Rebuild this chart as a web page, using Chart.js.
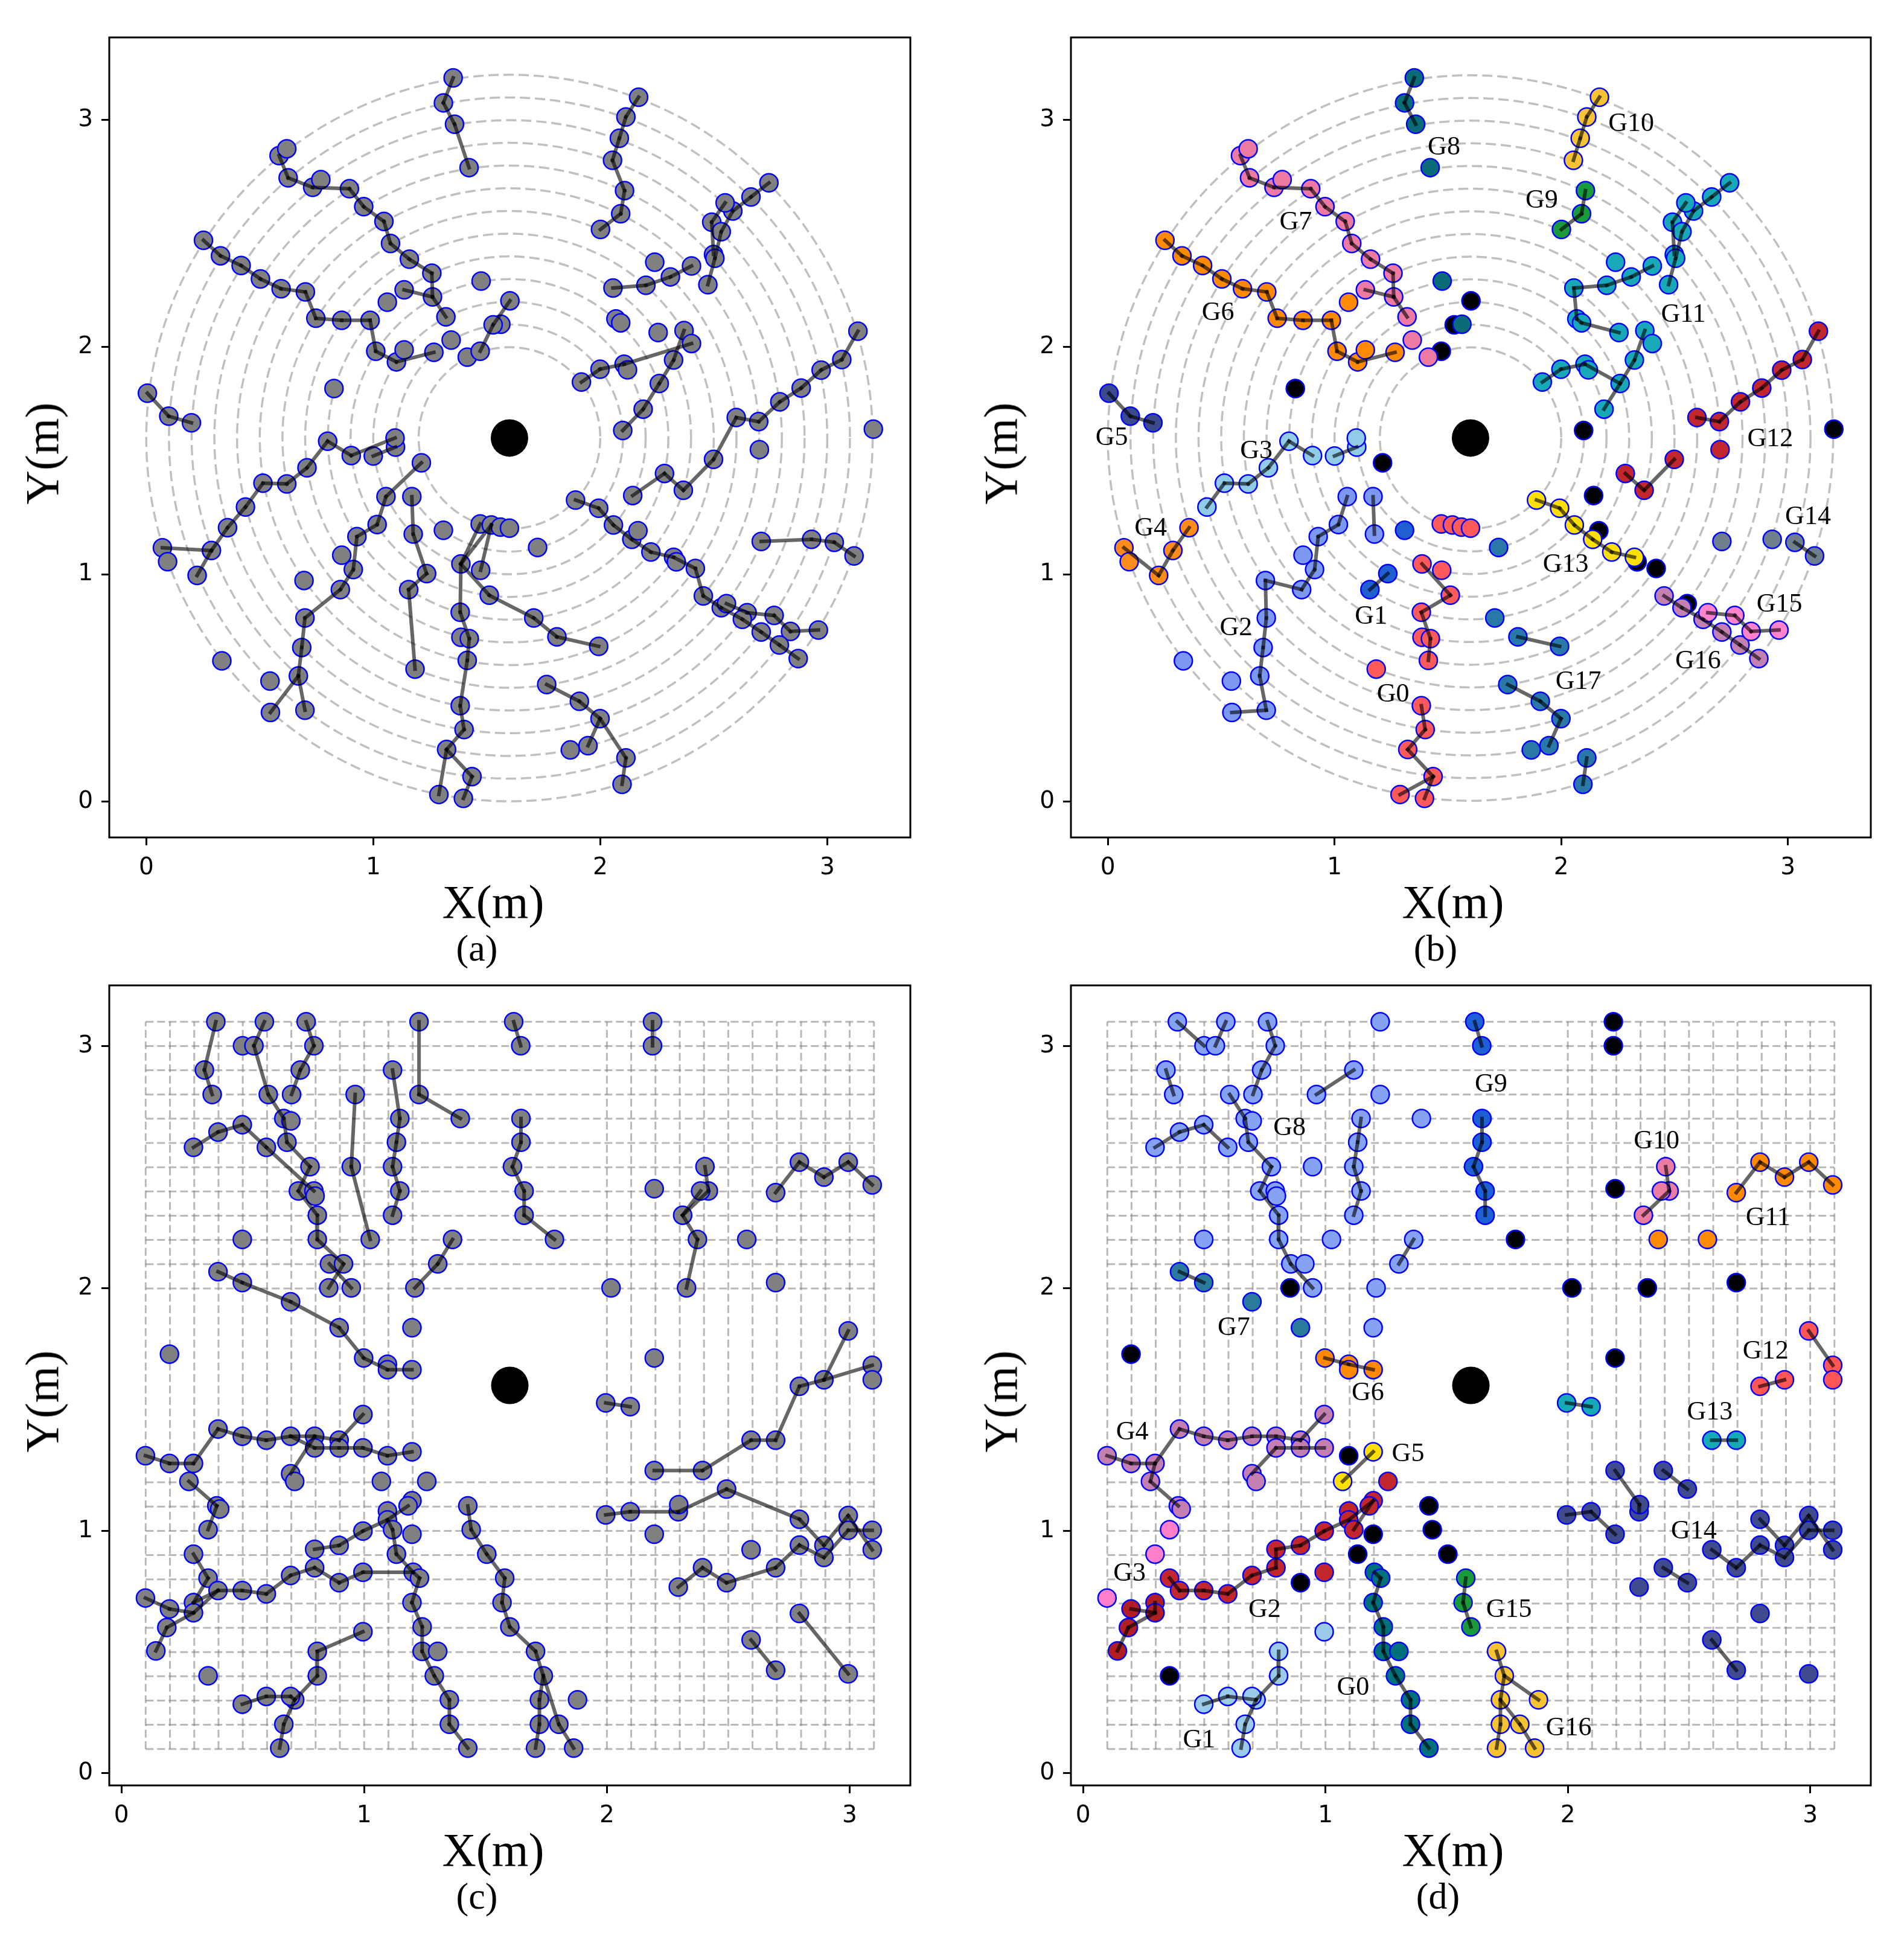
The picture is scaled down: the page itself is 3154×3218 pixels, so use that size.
<!DOCTYPE html>
<html><head><meta charset="utf-8">
<script src="https://cdn.jsdelivr.net/npm/chart.js@4.4.1/dist/chart.umd.min.js"></script>
<style>
html,body{margin:0;padding:0;background:#fff;}
body{position:relative;width:3154px;height:3218px;overflow:hidden;}
canvas{position:absolute;}
.t{position:absolute;font-family:'Liberation Serif','Times New Roman',serif;color:#000;white-space:nowrap;line-height:1;transform:translate(-50%,-50%);}
.ax{font-size:78px;}
.cap{font-size:62px;}
.yl{transform:translate(-50%,-50%) rotate(-90deg);}
</style></head><body>
<canvas id="pa" width="1507" height="1435" style="left:21px;top:42px"></canvas>
<canvas id="pb" width="1505" height="1435" style="left:1614px;top:42px"></canvas>
<canvas id="pc" width="1507" height="1435" style="left:21px;top:1612px"></canvas>
<canvas id="pd" width="1505" height="1435" style="left:1614px;top:1612px"></canvas>
<div class="t ax" style="left:817px;top:1494px">X(m)</div>
<div class="t cap" style="left:790px;top:1570px">(a)</div>
<div class="t ax yl" style="left:70px;top:751px">Y(m)</div>
<div class="t ax" style="left:2407px;top:1494px">X(m)</div>
<div class="t cap" style="left:2378px;top:1570px">(b)</div>
<div class="t ax yl" style="left:1658px;top:751px">Y(m)</div>
<div class="t ax" style="left:817px;top:3064px">X(m)</div>
<div class="t cap" style="left:790px;top:3140px">(c)</div>
<div class="t ax yl" style="left:70px;top:2321px">Y(m)</div>
<div class="t ax" style="left:2407px;top:3064px">X(m)</div>
<div class="t cap" style="left:2382px;top:3140px">(d)</div>
<div class="t ax yl" style="left:1658px;top:2321px">Y(m)</div>
<script>
// ---------- shared constants ----------
const tickValues = [0, 1, 2, 3];
const robotPos = [[1.6, 1.6]];
const ringRadii = [0.4, 0.5, 0.6, 0.7, 0.8, 0.9, 1.0, 1.1, 1.2, 1.3, 1.4, 1.5, 1.6];
const gridLinesX = [0.1,0.2,0.3,0.4,0.5,0.6,0.7,0.8,0.9,1.0,1.1,1.2,2.0,2.1,2.2,2.3,2.4,2.5,2.6,2.7,2.8,2.9,3.0,3.1];
const gridLinesY = [0.1,0.2,0.3,0.4,0.5,0.6,0.7,0.8,0.9,1.0,1.1,1.2,2.0,2.1,2.2,2.3,2.4,2.5,2.6,2.7,2.8,2.9,3.0,3.1];
const gridSpan = [0.1, 3.1];

// ---------- circular layout (a)/(b): groups ----------
const circG0 = [[1.386,1.046],[1.383,0.833],[1.386,0.723],[1.423,0.717],[1.414,0.621],[1.383,0.422],[1.400,0.317],[1.323,0.229],[1.435,0.110],[1.397,0.014],[1.289,0.031],[1.511,0.908],[1.473,1.018],[1.471,1.222],[1.520,1.217],[1.560,1.208],[1.600,1.203],[1.184,0.583]];
const circG1 = [[1.235,1.003],[1.156,0.933],[1.309,1.194]];
const circG2 = [[1.056,1.342],[1.017,1.219],[0.928,1.166],[0.912,1.021],[0.855,0.933],[0.699,0.808],[0.685,0.678],[0.670,0.553],[0.547,0.392],[0.699,0.402],[0.861,1.084],[0.695,0.973],[0.333,0.619],[0.545,0.530],[1.170,1.342],[1.176,1.177]];
const circG3 = [[0.437,1.296],[0.514,1.401],[0.619,1.398],[0.708,1.469],[0.799,1.586],[0.903,1.523],[1.000,1.521],[1.098,1.560],[1.096,1.600]];
const circG4 = [[0.358,1.205],[0.287,1.105],[0.224,0.995],[0.071,1.117],[0.094,1.056]];
const circG5 = [[0.005,1.797],[0.099,1.696],[0.199,1.667]];
const circG6 = [[0.252,2.470],[0.327,2.402],[0.418,2.359],[0.503,2.300],[0.594,2.257],[0.701,2.243],[0.747,2.127],[0.861,2.118],[0.986,2.118],[1.011,1.982],[1.102,1.935],[1.267,1.977],[1.136,1.988],[1.062,2.198]];
const circG7 = [[0.585,2.843],[0.619,2.873],[0.625,2.745],[0.733,2.703],[0.769,2.737],[0.895,2.697],[0.958,2.618],[1.047,2.553],[1.076,2.456],[1.159,2.387],[1.258,2.325],[1.261,2.221],[1.320,2.133],[1.136,2.252],[1.343,2.031],[1.414,1.956]];
const circG8 = [[1.352,3.185],[1.309,3.075],[1.358,2.981],[1.422,2.790],[1.475,2.291],[1.562,2.101]];
const circG9 = [[2.107,2.689],[2.090,2.587],[2.001,2.518]];
const circG10 = [[2.169,3.100],[2.113,3.013],[2.084,2.919],[2.054,2.822]];
const circG11 = [[2.056,2.260],[2.201,2.272],[2.309,2.309],[2.402,2.357],[2.240,2.374],[2.743,2.723],[2.664,2.661],[2.584,2.599],[2.550,2.635],[2.491,2.550],[2.533,2.508],[2.499,2.408],[2.505,2.391],[2.474,2.275],[2.069,2.124],[2.090,2.107],[2.255,2.064],[2.369,2.073],[2.402,2.016],[2.323,1.943],[2.260,1.840],[2.189,1.727],[1.917,1.846],[1.999,1.903],[2.105,1.925],[2.120,1.900]];
const circG12 = [[3.135,2.070],[3.064,1.945],[2.973,1.899],[2.885,1.820],[2.791,1.759],[2.698,1.672],[2.599,1.690],[2.499,1.506],[2.366,1.370],[2.283,1.444],[2.701,1.549]];
const circG13 = [[1.891,1.327],[1.993,1.291],[2.058,1.217],[2.139,1.154],[2.223,1.098],[2.323,1.075]];
const circG14 = [[2.709,1.145],[2.931,1.154],[3.031,1.141],[3.118,1.081]];
const circG15 = [[2.647,0.831],[2.766,0.819],[2.838,0.749],[2.961,0.755]];
const circG16 = [[2.454,0.905],[2.533,0.853],[2.626,0.802],[2.709,0.746],[2.789,0.689],[2.872,0.629]];
const circG17 = [[1.724,1.118],[1.707,0.808],[1.809,0.725],[1.993,0.683],[1.764,0.515],[1.908,0.441],[1.999,0.365],[2.113,0.192],[2.096,0.076],[1.946,0.246],[1.868,0.227]];
const circBlack = [[0.827,1.818],[1.212,1.491],[1.471,1.982],[1.528,2.098],[1.602,2.204],[2.099,1.633],[3.203,1.639],[2.143,1.347],[2.166,1.192],[2.335,1.055],[2.419,1.026],[2.556,0.871]];
const circGroups = [circG0,circG1,circG2,circG3,circG4,circG5,circG6,circG7,circG8,circG9,circG10,circG11,circG12,circG13,circG14,circG15,circG16,circG17];
const circColors = ['#ff5a5a','#1f5fcf','#7d98f0','#90cbe8','#ff8c1a','#3b4a8c','#ff8a00','#ec7aa2','#0b6c78','#1b9a3c','#f6c432','#19a8b8','#c1272d','#ffe100','#6f7f8e','#ff82cc','#c580b2','#2a78a8'];
const circLabels = [['G0',1.258,0.479],['G1',1.161,0.823],['G2',0.565,0.772],['G3',0.655,1.552],['G4',0.189,1.211],['G5',0.017,1.608],['G6',0.486,2.158],['G7',0.829,2.559],['G8',1.483,2.888],['G9',1.914,2.653],['G10',2.309,2.992],['G11',2.539,2.152],['G12',2.922,1.605],['G13',2.020,1.052],['G14',3.089,1.262],['G15',2.963,0.876],['G16',2.604,0.627],['G17',2.076,0.536]];

// links of panel (a)
const circLinksA = [
[[1.352,3.185],[1.309,3.075],[1.358,2.981],[1.422,2.790]],
[[0.585,2.843],[0.625,2.745],[0.733,2.703],[0.895,2.697],[0.958,2.618],[1.047,2.553],[1.076,2.456],[1.159,2.387],[1.258,2.325],[1.261,2.221],[1.320,2.133]],
[[1.136,2.252],[1.261,2.221]],
[[0.252,2.470],[0.327,2.402],[0.418,2.359],[0.503,2.300],[0.594,2.257],[0.701,2.243],[0.747,2.127],[0.861,2.118],[0.986,2.118],[1.011,1.982],[1.102,1.935],[1.267,1.977]],
[[1.471,1.982],[1.528,2.098],[1.602,2.204]],
[[0.005,1.797],[0.099,1.696],[0.199,1.667]],
[[2.169,3.100],[2.113,3.013],[2.084,2.919],[2.054,2.822],[2.107,2.689],[2.090,2.587],[2.001,2.518]],
[[2.056,2.260],[2.201,2.272],[2.309,2.309],[2.402,2.357]],
[[2.743,2.723],[2.664,2.661],[2.584,2.599],[2.533,2.508],[2.505,2.391],[2.474,2.275]],
[[2.550,2.635],[2.491,2.550],[2.499,2.408]],
[[1.917,1.846],[1.999,1.903],[2.105,1.925],[2.402,2.016]],
[[2.369,2.073],[2.323,1.943],[2.260,1.840],[2.189,1.727],[2.099,1.633]],
[[3.135,2.070],[3.064,1.945],[2.973,1.899],[2.885,1.820],[2.791,1.759],[2.698,1.672],[2.599,1.690],[2.499,1.506],[2.366,1.370],[2.283,1.444],[2.143,1.347]],
[[1.891,1.327],[1.993,1.291],[2.058,1.217],[2.139,1.154],[2.223,1.098],[2.323,1.075],[2.419,1.026],[2.454,0.905],[2.533,0.853],[2.626,0.802],[2.709,0.746],[2.789,0.689],[2.872,0.629]],
[[2.556,0.871],[2.647,0.831],[2.766,0.819],[2.838,0.749],[2.961,0.755]],
[[2.709,1.145],[2.931,1.154],[3.031,1.141],[3.118,1.081]],
[[1.471,1.222],[1.386,1.046],[1.520,1.217],[1.473,1.018]],
[[1.386,1.046],[1.511,0.908],[1.707,0.808],[1.809,0.725],[1.993,0.683]],
[[1.386,1.046],[1.383,0.833],[1.423,0.717],[1.414,0.621],[1.383,0.422],[1.400,0.317],[1.323,0.229],[1.435,0.110],[1.397,0.014]],
[[1.323,0.229],[1.289,0.031]],
[[1.764,0.515],[1.908,0.441],[1.999,0.365],[2.113,0.192],[2.096,0.076]],
[[1.999,0.365],[1.946,0.246]],
[[0.071,1.117],[0.287,1.105]],
[[0.224,0.995],[0.287,1.105],[0.358,1.205],[0.437,1.296],[0.514,1.401],[0.619,1.398],[0.708,1.469],[0.799,1.586],[0.903,1.523],[1.096,1.600]],
[[1.000,1.521],[1.098,1.560]],
[[1.212,1.491],[1.056,1.342],[1.017,1.219],[0.928,1.166],[0.912,1.021],[0.855,0.933],[0.699,0.808],[0.685,0.678],[0.670,0.553],[0.547,0.392]],
[[0.670,0.553],[0.699,0.402]],
[[1.170,1.342],[1.176,1.177],[1.235,1.003],[1.156,0.933],[1.184,0.583]]
];
// links of panel (b)
const circLinksB = [
[[1.352,3.185],[1.309,3.075],[1.358,2.981]],
[[2.169,3.100],[2.113,3.013],[2.084,2.919],[2.054,2.822]],
[[2.107,2.689],[2.090,2.587],[2.001,2.518]],
[[0.585,2.843],[0.625,2.745],[0.733,2.703],[0.895,2.697],[0.958,2.618],[1.047,2.553],[1.076,2.456],[1.159,2.387],[1.258,2.325],[1.261,2.221],[1.320,2.133]],
[[1.136,2.252],[1.261,2.221]],
[[0.252,2.470],[0.327,2.402],[0.418,2.359],[0.503,2.300],[0.594,2.257],[0.701,2.243],[0.747,2.127],[0.861,2.118],[0.986,2.118],[1.011,1.982],[1.102,1.935],[1.267,1.977]],
[[0.005,1.797],[0.099,1.696],[0.199,1.667]],
[[2.056,2.260],[2.201,2.272],[2.309,2.309],[2.402,2.357]],
[[2.743,2.723],[2.664,2.661],[2.584,2.599],[2.533,2.508],[2.505,2.391],[2.474,2.275]],
[[2.550,2.635],[2.491,2.550],[2.499,2.408]],
[[2.056,2.260],[2.069,2.124],[2.090,2.107],[2.255,2.064]],
[[2.369,2.073],[2.323,1.943],[2.260,1.840],[2.189,1.727]],
[[1.917,1.846],[1.999,1.903],[2.105,1.925],[2.260,1.840]],
[[3.135,2.070],[3.064,1.945],[2.973,1.899],[2.885,1.820],[2.791,1.759],[2.698,1.672],[2.599,1.690]],
[[2.499,1.506],[2.366,1.370],[2.283,1.444]],
[[1.891,1.327],[1.993,1.291],[2.058,1.217],[2.139,1.154],[2.223,1.098],[2.323,1.075]],
[[2.454,0.905],[2.533,0.853],[2.626,0.802],[2.709,0.746],[2.789,0.689],[2.872,0.629]],
[[2.647,0.831],[2.766,0.819],[2.838,0.749],[2.961,0.755]],
[[3.031,1.141],[3.118,1.081]],
[[0.437,1.296],[0.514,1.401],[0.619,1.398],[0.708,1.469],[0.799,1.586],[0.903,1.523]],
[[1.000,1.521],[1.098,1.560]],
[[0.358,1.205],[0.287,1.105],[0.224,0.995],[0.071,1.117]],
[[1.056,1.342],[1.017,1.219],[0.928,1.166],[0.912,1.021],[0.855,0.933],[0.695,0.973],[0.699,0.808],[0.685,0.678],[0.670,0.553],[0.699,0.402],[0.547,0.392]],
[[1.170,1.342],[1.176,1.177]],
[[1.235,1.003],[1.156,0.933]],
[[1.386,1.046],[1.511,0.908],[1.383,0.833],[1.423,0.717],[1.414,0.621]],
[[1.383,0.422],[1.400,0.317],[1.323,0.229],[1.435,0.110],[1.289,0.031]],
[[1.435,0.110],[1.397,0.014]],
[[1.809,0.725],[1.993,0.683]],
[[1.764,0.515],[1.908,0.441],[1.999,0.365],[1.946,0.246]],
[[2.113,0.192],[2.096,0.076]]
];

// ---------- grid layout (c)/(d): groups ----------
const gridG0 = [[1.202,0.829],[1.228,0.805],[1.197,0.704],[1.239,0.604],[1.239,0.503],[1.303,0.503],[1.289,0.402],[1.351,0.303],[1.351,0.202],[1.427,0.104]];
const gridG1 = [[0.995,0.584],[0.807,0.503],[0.807,0.402],[0.714,0.303],[0.697,0.317],[0.597,0.317],[0.498,0.285],[0.669,0.202],[0.652,0.104]];
const gridG2 = [[0.357,0.805],[0.398,0.754],[0.498,0.754],[0.597,0.740],[0.697,0.816],[0.796,0.848],[0.796,0.924],[0.897,0.940],[0.995,0.999],[1.096,1.082],[1.096,1.045],[1.117,1.005],[1.197,1.124],[1.181,1.103],[1.258,1.204],[0.995,0.829]];
const gridG3 = [[0.297,0.704],[0.297,0.662],[0.198,0.678],[0.187,0.601],[0.142,0.505]];
const gridG4 = [[0.099,1.310],[0.198,1.278],[0.297,1.278],[0.398,1.420],[0.498,1.390],[0.597,1.374],[0.697,1.390],[0.796,1.390],[0.897,1.374],[0.995,1.480],[0.796,1.342],[0.897,1.342],[0.995,1.342],[0.697,1.236],[0.714,1.204],[0.278,1.204],[0.393,1.103],[0.405,1.090]];
const gridG5 = [[1.197,1.326],[1.071,1.204]];
const gridG6 = [[0.998,1.713],[1.096,1.687],[1.096,1.665],[1.197,1.665]];
const gridG7 = [[0.398,2.069],[0.498,2.024],[0.697,1.945],[0.897,1.838]];
const gridG8 = [[0.389,3.100],[0.342,2.901],[0.374,2.800],[0.589,3.100],[0.499,3.001],[0.546,3.001],[0.605,2.800],[0.669,2.701],[0.698,2.691],[0.682,2.603],[0.777,2.502],[0.729,2.402],[0.793,2.402],[0.798,2.381],[0.807,2.302],[0.807,2.202],[0.857,2.101],[0.915,2.101],[0.947,2.002],[0.761,3.100],[0.793,3.001],[0.737,2.901],[0.701,2.800],[0.297,2.582],[0.398,2.645],[0.498,2.675],[0.597,2.582],[0.963,2.800],[0.947,2.502],[1.025,2.202],[1.117,2.901],[1.147,2.701],[1.133,2.603],[1.117,2.502],[1.147,2.402],[1.117,2.302],[1.226,3.100],[1.226,2.800],[1.396,2.701],[0.498,2.202],[1.364,2.202],[1.303,2.101],[1.209,2.002],[1.197,1.838]];
const gridG9 = [[1.616,3.100],[1.645,3.001],[1.646,2.701],[1.646,2.603],[1.611,2.502],[1.659,2.402],[1.659,2.302]];
const gridG10 = [[2.404,2.502],[2.418,2.402],[2.386,2.402],[2.312,2.302]];
const gridG11 = [[2.695,2.395],[2.793,2.521],[2.894,2.459],[2.994,2.521],[3.093,2.427],[2.373,2.202],[2.576,2.202]];
const gridG12 = [[2.994,1.825],[2.894,1.623],[3.093,1.683],[3.093,1.623],[2.793,1.596]];
const gridG13 = [[1.995,1.528],[2.096,1.512],[2.594,1.374],[2.695,1.374]];
const gridG14 = [[2.195,1.249],[2.394,1.249],[1.995,1.066],[2.096,1.079],[2.294,1.079],[2.296,1.108],[2.493,1.172],[2.793,1.048],[2.894,0.940],[2.894,0.890],[2.994,1.063],[2.994,1.002],[3.093,1.002],[3.093,0.922],[2.195,0.986],[2.594,0.922],[2.294,0.768],[2.394,0.848],[2.493,0.786],[2.695,0.848],[2.793,0.941],[2.793,0.659],[2.994,0.410],[2.594,0.550],[2.695,0.425]];
const gridG15 = [[1.579,0.805],[1.568,0.704],[1.600,0.604]];
const gridG16 = [[1.706,0.503],[1.738,0.402],[1.722,0.303],[1.722,0.202],[1.706,0.104],[1.802,0.202],[1.863,0.104],[1.879,0.303]];
const gridPink = [[0.357,1.005],[0.297,0.904],[0.099,0.723]];
const gridBlack = [[0.854,2.002],[0.198,1.729],[2.188,3.100],[2.188,3.001],[1.784,2.202],[2.195,2.411],[2.328,2.002],[2.017,2.002],[2.695,2.024],[2.195,1.713],[1.096,1.310],[1.427,1.103],[1.441,1.005],[1.505,0.904],[1.197,0.986],[1.133,0.904],[0.897,0.786],[0.357,0.402]];
const gridGroups = [gridG0,gridG1,gridG2,gridG3,gridG4,gridG5,gridG6,gridG7,gridG8,gridG9,gridG10,gridG11,gridG12,gridG13,gridG14,gridG15,gridG16,gridPink];
const gridColors = ['#00707a','#9ccbea','#c1272d','#b01e22','#c47fb1','#ffe100','#ff8a00','#2b7a9b','#86a2f3','#1e5fd6','#e97ca0','#ff8a00','#ff5555','#16a9b6','#3f4b8c','#1b9a3c','#f6c432','#ff80c8'];
const gridLabels = [['G0',1.114,0.362],['G1',0.479,0.145],['G2',0.749,0.683],['G3',0.192,0.832],['G4',0.203,1.414],['G5',1.341,1.326],['G6',1.175,1.576],['G7',0.622,1.846],['G8',0.852,2.670],['G9',1.683,2.850],['G10',2.366,2.616],['G11',2.826,2.298],['G12',2.816,1.747],['G13',2.586,1.496],['G14',2.520,1.007],['G15',1.757,0.683],['G16',2.004,0.194]];

const gridLinksC = [
[[0.389,3.100],[0.342,2.901],[0.374,2.800]],
[[0.589,3.100],[0.546,3.001],[0.605,2.800],[0.669,2.701],[0.682,2.603],[0.777,2.502],[0.729,2.402],[0.807,2.302],[0.807,2.202],[0.915,2.101],[0.854,2.002]],
[[0.857,2.101],[0.947,2.002]],
[[0.761,3.100],[0.793,3.001],[0.737,2.901],[0.701,2.800]],
[[0.297,2.582],[0.398,2.645],[0.498,2.675],[0.597,2.582],[0.793,2.402]],
[[0.963,2.800],[0.947,2.502],[1.025,2.202]],
[[1.117,2.901],[1.147,2.701],[1.133,2.603],[1.117,2.502],[1.147,2.402],[1.117,2.302]],
[[1.226,3.100],[1.226,2.800],[1.396,2.701]],
[[1.364,2.202],[1.303,2.101],[1.209,2.002]],
[[0.398,2.069],[0.498,2.024],[0.697,1.945],[0.897,1.838],[0.998,1.713],[1.096,1.665],[1.197,1.665]],
[[1.616,3.100],[1.645,3.001]],
[[2.188,3.100],[2.188,3.001]],
[[1.646,2.701],[1.646,2.603],[1.611,2.502],[1.659,2.402],[1.659,2.302],[1.784,2.202]],
[[2.404,2.502],[2.418,2.402],[2.312,2.302],[2.373,2.202],[2.328,2.002]],
[[2.386,2.402],[2.312,2.302]],
[[2.695,2.395],[2.793,2.521],[2.894,2.459],[2.994,2.521],[3.093,2.427]],
[[2.195,1.249],[2.394,1.249],[2.594,1.374],[2.695,1.374],[2.793,1.596],[2.894,1.623],[2.994,1.825]],
[[2.894,1.623],[3.093,1.683]],
[[1.995,1.528],[2.096,1.512]],
[[1.995,1.066],[2.096,1.079],[2.294,1.079],[2.493,1.172],[2.793,1.048],[2.894,0.940],[2.994,1.063],[3.093,0.922]],
[[2.294,0.768],[2.394,0.848],[2.493,0.786],[2.695,0.848],[2.793,0.941],[2.894,0.890],[2.994,1.002],[3.093,1.002]],
[[2.793,0.659],[2.994,0.410]],
[[2.594,0.550],[2.695,0.425]],
[[1.600,0.604],[1.706,0.503],[1.738,0.402],[1.722,0.303],[1.722,0.202],[1.706,0.104]],
[[1.738,0.402],[1.802,0.202],[1.863,0.104]],
[[0.099,1.310],[0.198,1.278],[0.297,1.278],[0.398,1.420],[0.498,1.390],[0.597,1.374],[0.697,1.390],[0.796,1.390],[0.897,1.374],[0.995,1.480]],
[[0.697,1.236],[0.796,1.390]],
[[0.697,1.390],[0.796,1.342],[0.897,1.342],[0.995,1.342],[1.096,1.310],[1.197,1.326]],
[[0.278,1.204],[0.393,1.103],[0.357,1.005]],
[[1.427,1.103],[1.441,1.005],[1.505,0.904],[1.579,0.805],[1.568,0.704],[1.600,0.604]],
[[0.796,0.924],[0.897,0.940],[0.995,0.999],[1.096,1.045],[1.181,1.103]],
[[1.096,1.045],[1.117,1.005],[1.133,0.904],[1.202,0.829]],
[[0.398,0.754],[0.498,0.754],[0.597,0.740],[0.697,0.816],[0.796,0.848],[0.897,0.786],[0.995,0.829],[1.202,0.829],[1.228,0.805],[1.197,0.704],[1.239,0.604],[1.239,0.503],[1.289,0.402],[1.351,0.303],[1.351,0.202],[1.427,0.104]],
[[0.297,0.904],[0.357,0.805],[0.297,0.704],[0.398,0.754]],
[[0.099,0.723],[0.198,0.678],[0.297,0.662],[0.398,0.754]],
[[0.142,0.505],[0.187,0.601],[0.297,0.662]],
[[0.995,0.584],[0.807,0.503],[0.807,0.402],[0.714,0.303],[0.669,0.202],[0.652,0.104]],
[[0.498,0.285],[0.597,0.317],[0.697,0.317],[0.714,0.303]]
];
const gridLinksD = [
[[0.389,3.100],[0.499,3.001]],
[[0.546,3.001],[0.589,3.100]],
[[0.761,3.100],[0.793,3.001],[0.737,2.901],[0.701,2.800]],
[[0.342,2.901],[0.374,2.800]],
[[0.605,2.800],[0.669,2.701],[0.682,2.603],[0.777,2.502],[0.729,2.402],[0.807,2.302],[0.807,2.202],[0.857,2.101],[0.947,2.002]],
[[1.117,2.901],[0.963,2.800]],
[[0.297,2.582],[0.398,2.645],[0.498,2.675],[0.597,2.582]],
[[1.147,2.701],[1.133,2.603],[1.117,2.502],[1.147,2.402],[1.117,2.302]],
[[1.364,2.202],[1.303,2.101]],
[[1.616,3.100],[1.645,3.001]],
[[1.646,2.701],[1.646,2.603],[1.611,2.502],[1.659,2.402],[1.659,2.302]],
[[2.404,2.502],[2.418,2.402],[2.312,2.302]],
[[2.695,2.395],[2.793,2.521],[2.894,2.459],[2.994,2.521],[3.093,2.427]],
[[2.994,1.825],[3.093,1.683]],
[[2.793,1.596],[2.894,1.623]],
[[0.398,2.069],[0.498,2.024]],
[[0.998,1.713],[1.096,1.687],[1.197,1.665]],
[[0.099,1.310],[0.198,1.278],[0.297,1.278],[0.398,1.420],[0.498,1.390],[0.597,1.374],[0.697,1.390],[0.796,1.390],[0.897,1.374],[0.995,1.480]],
[[0.697,1.236],[0.796,1.342],[0.897,1.342],[0.995,1.342]],
[[0.297,1.278],[0.278,1.204],[0.393,1.103]],
[[1.197,1.326],[1.071,1.204]],
[[0.357,0.805],[0.398,0.754],[0.498,0.754],[0.597,0.740],[0.697,0.816],[0.796,0.848],[0.796,0.924],[0.897,0.940],[0.995,0.999],[1.096,1.045],[1.197,1.124]],
[[1.117,1.005],[1.197,1.124]],
[[0.142,0.505],[0.187,0.601],[0.297,0.662],[0.297,0.704]],
[[0.198,0.678],[0.297,0.662]],
[[1.202,0.829],[1.228,0.805],[1.197,0.704],[1.239,0.604],[1.239,0.503],[1.289,0.402],[1.351,0.303],[1.351,0.202],[1.427,0.104]],
[[0.807,0.503],[0.807,0.402],[0.714,0.303],[0.597,0.317],[0.498,0.285]],
[[0.714,0.303],[0.669,0.202],[0.652,0.104]],
[[1.579,0.805],[1.568,0.704],[1.600,0.604]],
[[1.706,0.503],[1.738,0.402],[1.879,0.303]],
[[1.738,0.402],[1.722,0.303],[1.722,0.202],[1.706,0.104]],
[[1.722,0.303],[1.802,0.202],[1.863,0.104]],
[[1.995,1.528],[2.096,1.512]],
[[2.594,1.374],[2.695,1.374]],
[[2.195,1.249],[2.296,1.108],[2.294,1.079]],
[[2.394,1.249],[2.493,1.172]],
[[1.995,1.066],[2.096,1.079],[2.195,0.986]],
[[2.793,1.048],[2.894,0.940],[2.994,1.063],[3.093,0.922]],
[[2.994,1.002],[3.093,1.002]],
[[2.594,0.922],[2.695,0.848],[2.793,0.941],[2.894,0.890],[2.994,1.002]],
[[2.394,0.848],[2.493,0.786]],
[[2.594,0.550],[2.695,0.425]]
];

// ---------- helpers ----------
const LINK_COLOR = 'rgba(0,0,0,0.6)';
const toXY = arr => arr.map(p => ({x: p[0], y: p[1]}));

function segmentSets(polys) {
  const out = [];
  polys.forEach(pl => {
    for (let i = 0; i < pl.length - 1; i++) {
      out.push({type: 'line', data: toXY([pl[i], pl[i + 1]]), borderColor: LINK_COLOR, borderWidth: 6,
        borderCapStyle: 'square', pointRadius: 0, pointHoverRadius: 0, fill: false, tension: 0, order: 0});
    }
  });
  return out;
}
function pointSet(pts, color) {
  return {type: 'scatter', data: toXY(pts), pointBackgroundColor: color, backgroundColor: color,
    pointBorderColor: '#0000ff', borderColor: '#0000ff', pointBorderWidth: 2.5, pointRadius: 15, pointHoverRadius: 15, order: 1};
}
function robotSet() {
  return {type: 'scatter', data: toXY(robotPos), pointBackgroundColor: '#000', pointBorderWidth: 0,
    pointBorderColor: '#000', pointRadius: 31, pointHoverRadius: 31, order: 1};
}

function decoPlugin(kind, labels) {
  return {
    id: 'deco',
    beforeDatasetsDraw(chart) {
      const {ctx, chartArea: a, scales: {x, y}} = chart;
      ctx.save();
      ctx.beginPath(); ctx.rect(a.left, a.top, a.right - a.left, a.bottom - a.top); ctx.clip();
      if (kind === 'rings') {
        ctx.strokeStyle = '#c0c0c0'; ctx.lineWidth = 3.5; ctx.setLineDash([17, 8]);
        const cx = x.getPixelForValue(robotPos[0][0]), cy = y.getPixelForValue(robotPos[0][1]);
        ringRadii.forEach(r => {
          const rp = x.getPixelForValue(robotPos[0][0] + r) - cx;
          ctx.beginPath(); ctx.arc(cx, cy, rp, 0, Math.PI * 2); ctx.stroke();
        });
      } else {
        ctx.strokeStyle = 'rgba(128,128,128,0.55)'; ctx.lineWidth = 3; ctx.setLineDash([13, 6]);
        gridLinesX.forEach(v => {
          const px = x.getPixelForValue(v);
          ctx.beginPath(); ctx.moveTo(px, y.getPixelForValue(gridSpan[0])); ctx.lineTo(px, y.getPixelForValue(gridSpan[1])); ctx.stroke();
        });
        gridLinesY.forEach(v => {
          const py = y.getPixelForValue(v);
          ctx.beginPath(); ctx.moveTo(x.getPixelForValue(gridSpan[0]), py); ctx.lineTo(x.getPixelForValue(gridSpan[1]), py); ctx.stroke();
        });
      }
      ctx.restore();
    },
    afterDatasetsDraw(chart) {
      if (!labels) return;
      const {ctx, scales: {x, y}} = chart;
      ctx.save();
      ctx.fillStyle = '#000'; ctx.font = "44px 'Liberation Serif'";
      ctx.textAlign = 'center'; ctx.textBaseline = 'alphabetic';
      labels.forEach(l => ctx.fillText(l[0], x.getPixelForValue(l[1]), y.getPixelForValue(l[2]) + 15));
      ctx.restore();
    },
    afterDraw(chart) {
      const {ctx, chartArea: a} = chart;
      ctx.save(); ctx.strokeStyle = '#000'; ctx.lineWidth = 3;
      ctx.strokeRect(a.left, a.top, a.right - a.left, a.bottom - a.top);
      ctx.restore();
    }
  };
}

function axis(range, which) {
  return {
    type: 'linear', position: which === 'x' ? 'bottom' : 'left', min: range[0], max: range[1],
    afterBuildTicks: ax => { ax.ticks = tickValues.map(v => ({value: v})); },
    afterFit: ax => {
      if (which === 'x') ax.height = 90; else ax.width = 160;
      ax.paddingTop = 0; ax.paddingBottom = 0; ax.paddingLeft = 0; ax.paddingRight = 0;
    },
    grid: {display: true, drawOnChartArea: false, drawTicks: true, tickLength: 13, color: '#000', lineWidth: 3},
    border: {display: false},
    ticks: {color: '#000', font: {family: 'DejaVu Sans', size: 39}, padding: 14, autoSkip: false,
      maxRotation: 0, minRotation: 0, callback: v => String(v)}
  };
}

function build(id, xr, yr, datasets, kind, labels) {
  new Chart(document.getElementById(id), {
    type: 'scatter',
    data: {datasets},
    options: {
      responsive: false, maintainAspectRatio: false, animation: false, devicePixelRatio: 1, events: [],
      layout: {autoPadding: false, padding: {left: 0, top: 20, right: 20, bottom: 0}},
      plugins: {legend: {display: false}, tooltip: {enabled: false}},
      scales: {x: axis(xr, 'x'), y: axis(yr, 'y')}
    },
    plugins: [decoPlugin(kind, labels)]
  });
}

const circX = [-0.163, 3.366], circY = [-0.158, 3.363];
const gridX = [-0.05, 3.25], gridY = [-0.05, 3.25];

const allCirc = circGroups.flat().concat(circBlack);
const allGrid = gridGroups.flat().concat(gridBlack);

build('pa', circX, circY, [...segmentSets(circLinksA), pointSet(allCirc, '#808080'), robotSet()], 'rings', null);
build('pb', circX, circY, [...segmentSets(circLinksB), ...circGroups.map((g, i) => pointSet(g, circColors[i])), pointSet(circBlack, '#000000'), robotSet()], 'rings', circLabels);
build('pc', gridX, gridY, [...segmentSets(gridLinksC), pointSet(allGrid, '#808080'), robotSet()], 'grid', null);
build('pd', gridX, gridY, [...segmentSets(gridLinksD), ...gridGroups.map((g, i) => pointSet(g, gridColors[i])), pointSet(gridBlack, '#000000'), robotSet()], 'grid', gridLabels);
</script>
</body></html>
